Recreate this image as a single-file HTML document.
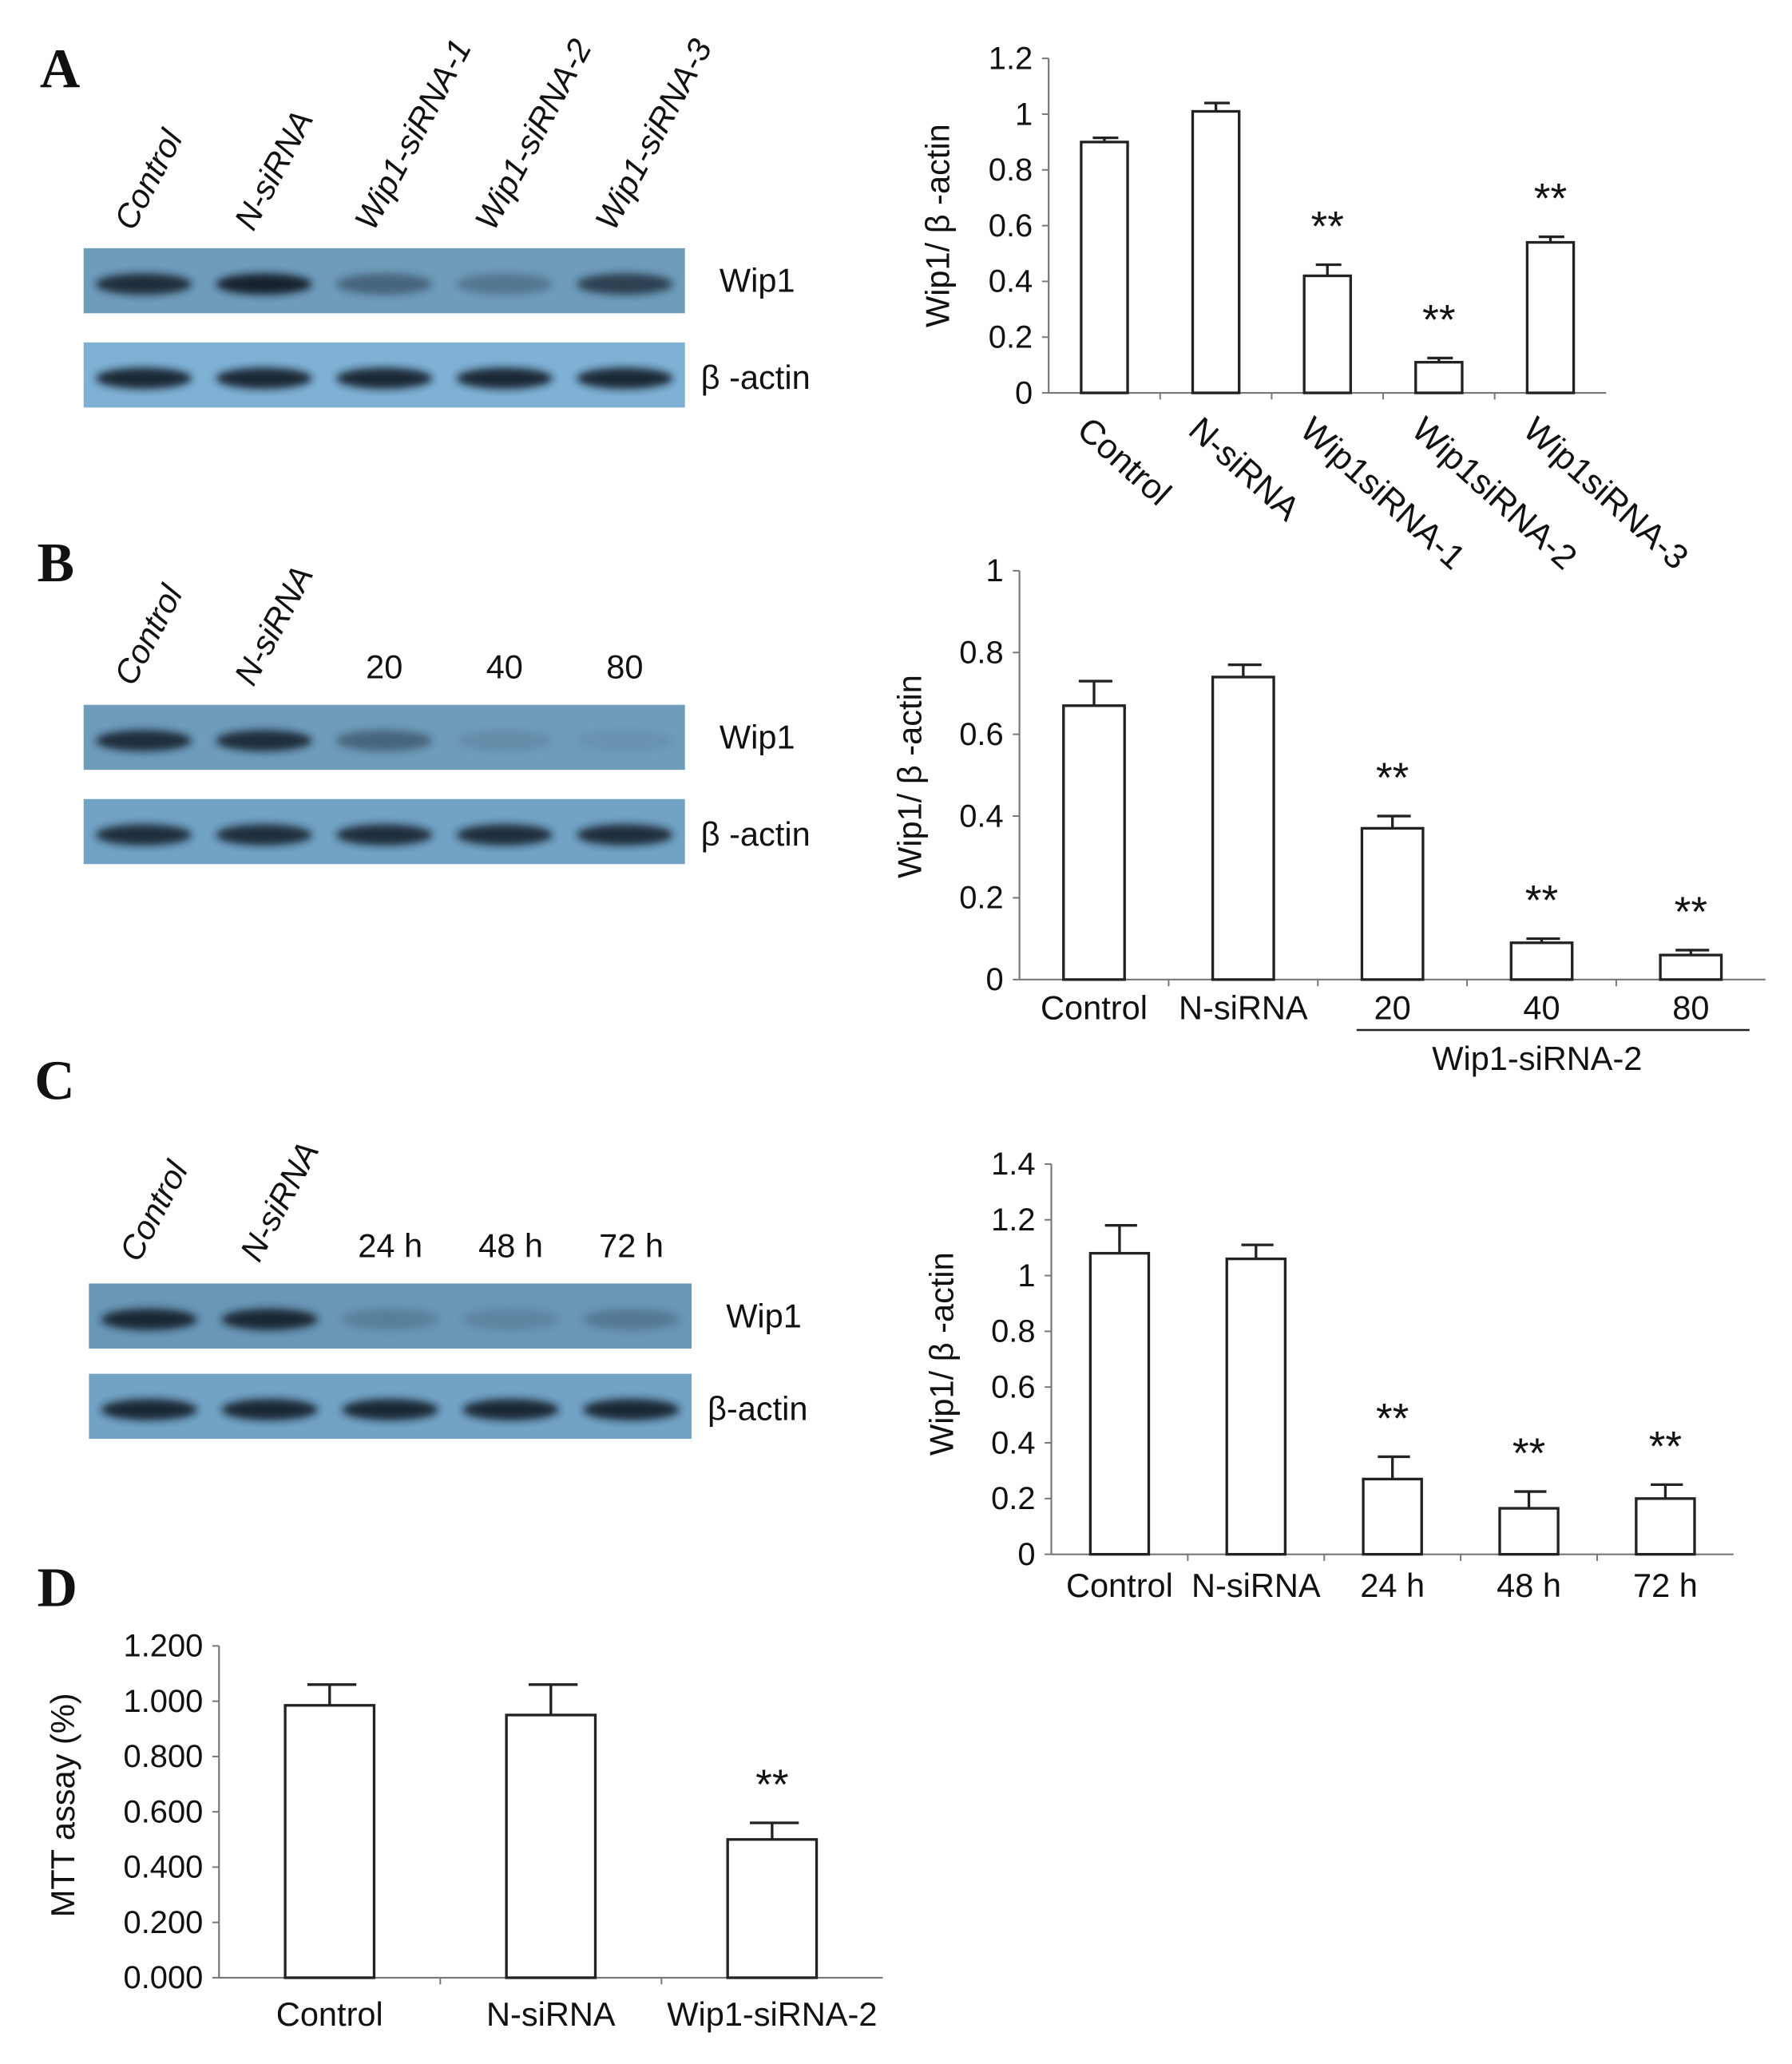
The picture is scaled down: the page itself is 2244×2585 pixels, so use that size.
<!DOCTYPE html>
<html><head><meta charset="utf-8"><style>
html,body{margin:0;padding:0;background:#fff;}
svg{display:block;}
text{font-family:"Liberation Sans",sans-serif;fill:#111;}
.pl{font-family:"Liberation Serif",serif;font-weight:bold;font-size:42px;}
</style></head><body>
<svg id="fig" xmlns="http://www.w3.org/2000/svg" width="2244" height="2585" viewBox="0 0 1350 1555" preserveAspectRatio="none">
<defs><filter id="blur" x="-20%" y="-50%" width="140%" height="200%"><feGaussianBlur stdDeviation="3"/></filter></defs>
<text class="pl" x="30" y="66">A</text>
<text class="pl" x="28" y="438">B</text>
<text class="pl" x="26" y="828">C</text>
<text class="pl" x="28" y="1210">D</text>
<g id="blots"></g>
<g id="charts"></g>
</svg>
<script>
const catsA = ["Control","N-siRNA","Wip1siRNA-1","Wip1siRNA-2","Wip1siRNA-3"];
const valsA = [0.90,1.01,0.42,0.11,0.54];
const errA = [0.015,0.03,0.04,0.015,0.02];
const sigA = [false,false,true,true,true];
const ticksA = ["0","0.2","0.4","0.6","0.8","1","1.2"];

const catsB = ["Control","N-siRNA","20","40","80"];
const valsB = [0.67,0.74,0.37,0.09,0.06];
const errB = [0.06,0.03,0.03,0.01,0.012];
const sigB = [false,false,true,true,true];
const ticksB = ["0","0.2","0.4","0.6","0.8","1"];

const catsC = ["Control","N-siRNA","24 h","48 h","72 h"];
const valsC = [1.08,1.06,0.27,0.165,0.20];
const errC = [0.10,0.05,0.08,0.06,0.05];
const sigC = [false,false,true,true,true];
const ticksC = ["0","0.2","0.4","0.6","0.8","1","1.2","1.4"];

const catsD = ["Control","N-siRNA","Wip1-siRNA-2"];
const valsD = [0.985,0.95,0.50];
const errD = [0.075,0.11,0.06];
const sigD = [false,false,true];
const ticksD = ["0.000","0.200","0.400","0.600","0.800","1.000","1.200"];

const blotA_wip = [0.9,1.0,0.45,0.3,0.75];
const blotA_act = [0.95,0.95,0.95,0.95,0.95];
const blotB_wip = [0.9,0.9,0.45,0.12,0.08];
const blotB_act = [0.9,0.9,0.9,0.9,0.9];
const blotC_wip = [0.95,0.95,0.2,0.15,0.25];
const blotC_act = [0.95,0.95,0.95,0.95,0.95];

const NS="http://www.w3.org/2000/svg";
function mk(tag, attrs, parent, txt){
  const e=document.createElementNS(NS,tag);
  for(const k in attrs) e.setAttribute(k,attrs[k]);
  if(txt!==undefined) e.textContent=txt;
  parent.appendChild(e); return e;
}
const charts=document.getElementById('charts');
const blots=document.getElementById('blots');

function chart(o){
  const g=mk('g',{},charts);
  
  
  const y=v=>o.y0-(v/o.max)*(o.y0-o.y1);
  const n=o.cats.length, step=(o.x1-o.x0)/n;
  const xc=i=>o.x0+step*(i+0.5);
  const ax=mk('line',{x1:o.x0,y1:o.y1,x2:o.x0,y2:o.y0,stroke:'#777','stroke-width':1.3},g);
  
  
  const bx=mk('line',{x1:o.x0,y1:o.y0,x2:o.x1,y2:o.y0,stroke:'#777','stroke-width':1.3},g);
  
  
  o.ticks.forEach((t,i)=>{
    const v=o.max*i/(o.ticks.length-1);
    mk('line',{x1:o.x0-5,y1:y(v),x2:o.x0,y2:y(v),stroke:'#777','stroke-width':1.2},g);
    const tl=mk('text',{x:o.x0-12,y:y(v)+8,'text-anchor':'end','font-size':o.tfs||24},g,t);
    
    
  });
  for(let i=1;i<n;i++) mk('line',{x1:o.x0+step*i,y1:o.y0,x2:o.x0+step*i,y2:o.y0+5,stroke:'#777','stroke-width':1.2},g);
  o.cats.forEach((c,i)=>{
    const cx=xc(i), top=y(o.vals[i]), et=y(o.vals[i]+o.err[i]);
    mk('line',{x1:cx,y1:et,x2:cx,y2:top,stroke:'#222','stroke-width':2},g);
    mk('line',{x1:cx-o.bw*0.25,y1:et,x2:cx+o.bw*0.3,y2:et,stroke:'#222','stroke-width':2},g);
    const r=mk('rect',{x:cx-o.bw/2,y:top,width:o.bw,height:o.y0-top,fill:'#fff',stroke:'#222','stroke-width':2},g);
    
    
    if(o.sig[i]){
      const s=mk('text',{x:cx,y:et-18,'text-anchor':'middle','font-size':32,'font-family':'Liberation Serif'},g,'**');
      
      
    }
    let lbl;
    if(o.rot){
      lbl=mk('text',{x:cx-22,y:o.y0+30,'font-size':26,transform:`rotate(42 ${cx-22} ${o.y0+30})`},g,c);
    } else {
      lbl=mk('text',{x:cx,y:o.y0+(o.lblOff||36),'text-anchor':'middle','font-size':o.xfs||25},g,c);
    }
    
    
  });
  const tt=mk('text',{x:o.tx,y:o.ty,'text-anchor':'middle','font-size':25,transform:`rotate(-90 ${o.tx} ${o.ty})`},g,o.title);
  
  
  return {g,xc};
}

chart({name:'chart-a',cats:catsA,vals:valsA,err:errA,sig:sigA,ticks:ticksA,max:1.2,x0:790,x1:1210,y0:296,y1:44,bw:35,rot:true,title:'Wip1/ β -actin',tx:715,ty:170});
chart({name:'chart-b',cats:catsB,vals:valsB,err:errB,sig:sigB,ticks:ticksB,max:1,x0:768,x1:1330,y0:738,y1:430,bw:46,title:'Wip1/ β -actin',tx:694,ty:585,lblOff:30});
chart({name:'chart-c',cats:catsC,vals:valsC,err:errC,sig:sigC,ticks:ticksC,max:1.4,x0:792,x1:1306,y0:1171,y1:877,bw:44,title:'Wip1/ β -actin',tx:718,ty:1020,lblOff:32});
chart({name:'chart-d',cats:catsD,vals:valsD,err:errD,sig:sigD,ticks:ticksD,max:1.2,x0:165,x1:665,y0:1490,y1:1240,bw:67,title:'MTT assay (%)',tx:56,ty:1360,lblOff:36});

const gb=mk('g',{},charts);


mk('line',{x1:1022,y1:776,x2:1318,y2:776,stroke:'#222','stroke-width':1.5},gb);
mk('text',{x:1158,y:806,'text-anchor':'middle','font-size':25},gb,'Wip1-siRNA-2');

function blot(name,x0,x1,ys,wip,act,lanes,colW,colA,topLabels,rotLabels,labY,actText){
  const g=mk('g',{},blots);
  
  
  const w=x1-x0, lw=w/5;
  [[ys[0],colW,wip],[ys[1],colA,act]].forEach(([yy,col,ints])=>{
    mk('rect',{x:x0,y:yy,width:w,height:49,fill:col},g);
    ints.forEach((v,i)=>{
      const cx=x0+lw*(i+0.5);
      mk('ellipse',{cx:cx,cy:yy+27,rx:lw*0.4,ry:8,fill:'#13202f',opacity:v,filter:'url(#blur)'},g);
    });
  });
  const l1=mk('text',{x:x1+26,y:ys[0]+33,'font-size':25},g,'Wip1');
  
  
  const l2=mk('text',{x:x1+12,y:ys[1]+35,'font-size':25},g,actText);
  
  
  rotLabels.forEach((t,i)=>{
    const cx=x0+lw*(i+0.5)-8, yy=labY;
    const e=mk('text',{x:cx,y:yy,'font-size':25,'font-style':'italic',transform:`rotate(-62 ${cx} ${yy})`},g,t);
    
    
  });
  topLabels.forEach((t,i)=>{
    const cx=x0+lw*(i+2.5);
    const e=mk('text',{x:cx,y:ys[0]-20,'text-anchor':'middle','font-size':25},g,t);
    
    
  });
}
blot('blot-a',63,516,[187,258],blotA_wip,blotA_act,5,'#6f9cbb','#7fb1d4',[],["Control","N-siRNA","Wip1-siRNA-1","Wip1-siRNA-2","Wip1-siRNA-3"],175,'β -actin');
blot('blot-b',63,516,[531,602],blotB_wip,blotB_act,5,'#6f9cbb','#72a2c4',["20","40","80"],["Control","N-siRNA"],518,'β -actin');
blot('blot-c',67,521,[967,1035],blotC_wip,blotC_act,5,'#6a97b6','#72a2c4',["24 h","48 h","72 h"],["Control","N-siRNA"],952,'β-actin');
</script>
</body></html>
